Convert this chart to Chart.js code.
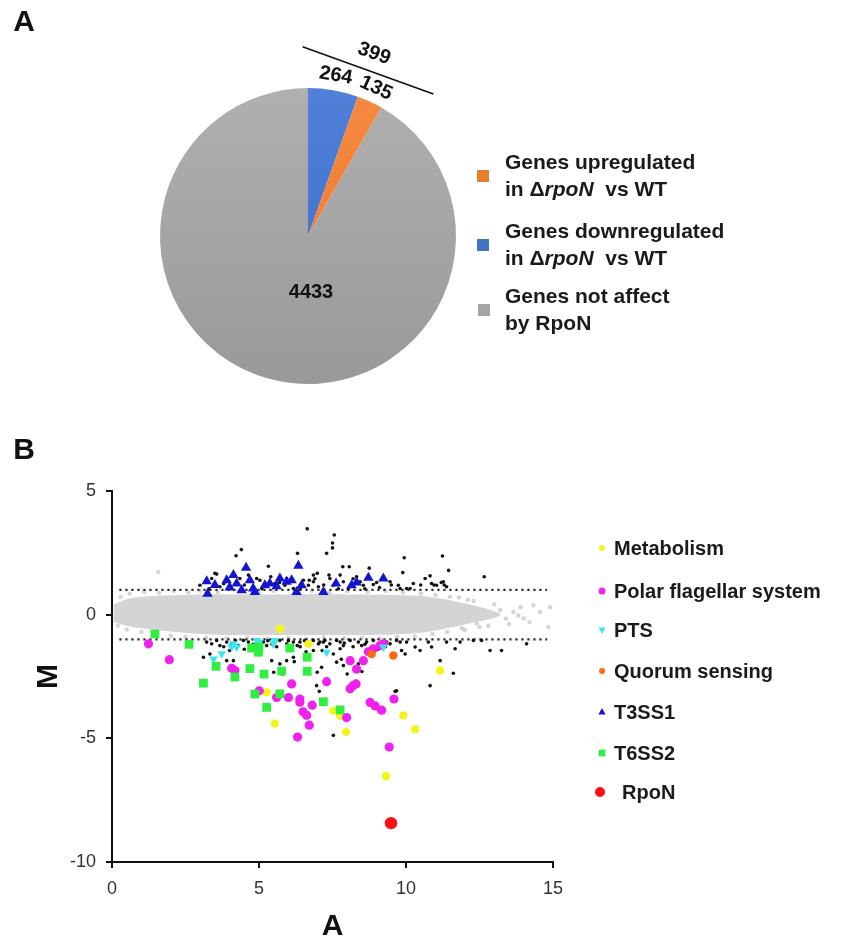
<!DOCTYPE html>
<html><head><meta charset="utf-8">
<script src="https://cdn.jsdelivr.net/npm/chart.js@4.4.1/dist/chart.umd.min.js"></script>
<style>
html,body{margin:0;padding:0;background:#fff;}
#wrap{position:relative;width:854px;height:946px;}
canvas{position:absolute;left:0;top:0;}
</style></head><body>
<div id="wrap"><canvas id="pie" width="854" height="946"></canvas><canvas id="ma" width="854" height="946"></canvas></div>
<script>
// ---------- Panel A data ----------
const pieCategories = ["Genes downregulated in ΔrpoN vs WT", "Genes upregulated in ΔrpoN vs WT", "Genes not affect by RpoN"];
const pieValues = [264, 135, 4433];

// ---------- Panel B data (A, M) ----------
const xTicks = [0, 5, 10, 15];
const yTicks = [-10, -5, 0, 5];
const thresholds = [1, -1];
const bandA     = [0.05, 0.5, 1, 2, 3, 4, 6, 8, 10, 11, 12, 12.7, 13.2];
const bandUpper = [0.4, 0.62, 0.72, 0.78, 0.82, 0.82, 0.82, 0.82, 0.78, 0.68, 0.45, 0.25, 0.05];
const bandLower = [-0.3, -0.45, -0.55, -0.68, -0.78, -0.82, -0.82, -0.82, -0.78, -0.64, -0.4, -0.22, -0.05];
const greyPoints = [[13.2,0.18],[13.65,0.11],[13.82,-0.03],[14.33,0.38],[14.56,0.11],[14.84,-0.5],[14.2,-0.3],[13.4,-0.16],[12.97,-0.03],[1.57,1.73],[14.9,0.3],[12.3,0.55],[12.5,-0.5],[11.8,0.7],[12.0,-0.62],[0.3,0.72],[0.2,-0.45],[13.0,0.42],[13.5,-0.38],[12.8,-0.45],[13.9,0.3],[12.6,0.2],[14.0,-0.15],
  [0.6,0.85],[1.1,0.92],[1.6,0.88],[2.1,0.95],[2.6,0.9],[3.0,0.97],[3.6,0.92],[4.3,0.95],[5.0,0.9],[5.5,0.96],[6.2,0.92],[6.8,0.97],[7.4,0.9],[8.0,0.95],[8.7,0.92],[9.3,0.96],[9.9,0.9],[10.5,0.85],[11.0,0.8],[11.5,0.72],[12.1,0.6],
  [0.5,-0.6],[1.0,-0.7],[1.5,-0.75],[2.0,-0.85],[2.5,-0.9],[3.2,-0.93],[3.9,-0.95],[4.6,-0.92],[5.3,-0.96],[6.0,-0.93],[6.6,-0.97],[7.2,-0.92],[7.9,-0.95],[8.5,-0.93],[9.1,-0.96],[9.7,-0.9],[10.3,-0.88],[10.9,-0.78],[11.4,-0.7],[11.9,-0.55],[12.4,-0.35]];
const blackUp = [[6.64,3.47],[7.56,3.22],[7.5,2.9],[7.5,2.7],[4.4,2.63],[4.22,2.38],[6.31,2.48],[7.3,2.48],[9.94,2.3],[11.24,2.37],[11.45,1.79],[12.66,1.53],[5.32,1.96],[7.85,1.94],[8.07,1.94],[8.75,1.88],[9.89,1.7],[6.98,1.67],[6.85,1.6],[7.38,1.6],[7.76,1.6],[10.82,1.57],[10.65,1.46],[3.56,1.64],[5.4,1.53],[4.92,1.46],[5.94,1.46],[6.11,1.46],[6.71,1.39],[6.68,1.19],[8.32,1.53],[8.44,1.33],[10.95,1.2],[11.3,1.2],[11.2,1.3],[10.5,1.2],[9.0,1.3],[9.5,1.2],[10.87,1.26],[11.04,1.19],[11.27,1.33],[11.38,1.13],[10.14,1.06],[9.8,1.06],[2.99,1.19],[3.39,1.46],[3.5,1.67],[3.67,1.13],[4.01,1.19],[4.35,1.46],[4.64,1.6],[5.03,1.39],[5.26,1.19],[5.54,1.26],[5.88,1.19],[6.17,1.06],[6.51,1.39],[6.85,1.33],[7.02,1.13],[7.41,1.46],[7.53,1.19],[7.87,1.33],[8.04,1.06],[8.55,1.19],[8.89,1.22],[9.46,1.33],[9.74,1.19],[10.02,1.06],[10.25,1.26],[3.3,1.05],[3.8,1.25],[4.5,1.2],[5.1,1.05],[5.7,1.3],[6.4,1.05],[6.9,1.45],[7.2,1.2],[7.7,1.05],[8.2,1.45],[8.6,1.05],[9.1,1.1]];
const blackDown = [[7.07,-1.11],[7.24,-1.04],[7.41,-1.18],[7.64,-1.04],[7.76,-1.11],[7.87,-1.25],[8.1,-1.04],[8.38,-1.11],[8.49,-1.25],[8.66,-1.11],[8.89,-1.04],[9.12,-1.18],[9.34,-1.11],[9.46,-1.18],[9.68,-1.04],[9.8,-1.11],[10.02,-1.11],[10.31,-1.31],[10.48,-1.45],[10.76,-1.11],[10.87,-1.31],[11.38,-1.11],[11.67,-1.38],[11.84,-1.11],[12.29,-1.04],[12.57,-1.04],[12.86,-1.45],[13.25,-1.45],[14.1,-1.18],[11.16,-1.86],[11.61,-2.37],[10.82,-2.87],[9.68,-3.08],[7.76,-1.38],[7.53,-1.59],[7.13,-2.13],[6.96,-2.87],[7.87,-2.06],[8.38,-1.99],[7.64,-1.92],[9.85,-1.45],[9.97,-1.59],[3.22,-1.11],[3.39,-1.18],[3.56,-1.04],[3.67,-1.25],[3.9,-1.11],[4.07,-1.18],[4.3,-1.25],[4.47,-1.04],[4.64,-1.11],[5.15,-1.11],[5.26,-1.25],[5.43,-1.18],[5.71,-1.04],[5.94,-1.18],[6.17,-1.11],[6.39,-1.11],[6.85,-1.04],[7.02,-1.18],[7.19,-1.11],[3.11,-1.72],[3.33,-1.59],[3.9,-1.86],[4.13,-1.86],[5.43,-1.86],[5.71,-1.99],[5.94,-1.86],[6.17,-1.72],[6.85,-1.45],[5.5,-2.33],[5.8,-2.4],[6.2,-1.9],[6.98,-2.33],[7.8,-1.8],[8.0,-2.4],[8.3,-2.7],[7.05,-3.1],[8.5,-2.3],[9.63,-3.1],[7.53,-4.88],[6.4,-1.3],[6.6,-1.5],[5.0,-1.45],[4.5,-1.4],[8.7,-1.45],[9.05,-1.4],[3.8,-1.3],[4.2,-1.05],[4.8,-1.2],[5.6,-1.3],[6.0,-1.05],[6.3,-1.25],[6.7,-1.2],[7.3,-1.3],[7.9,-1.15],[8.2,-1.3],[8.6,-1.2],[9.3,-1.3],[5.3,-1.05],[4.0,-1.45],[7.15,-1.45],[6.55,-1.05]];
const metabolism = [[5.71,-0.57],[6.68,-1.18],[11.16,-2.26],[5.26,-3.14],[5.54,-4.4],[7.53,-3.88],[7.76,-4.09],[7.96,-4.74],[9.91,-4.07],[10.31,-4.63],[9.32,-6.53]];
const polarFlagellar = [[1.24,-1.18],[1.95,-1.82],[4.07,-2.17],[4.18,-2.26],[5.01,-3.08],[5.6,-3.35],[6.0,-3.35],[6.11,-2.8],[6.39,-3.41],[6.39,-3.54],[6.5,-3.93],[6.62,-4.07],[6.71,-4.47],[6.81,-3.66],[6.31,-4.95],[7.3,-2.71],[7.98,-4.16],[8.1,-3.0],[8.2,-2.87],[8.3,-2.8],[8.1,-1.86],[8.32,-2.2],[8.55,-1.86],[8.78,-3.55],[8.95,-3.69],[9.17,-3.86],[9.59,-3.41],[9.43,-5.35],[8.89,-1.38],[9.12,-1.25],[9.23,-1.18],[8.72,-1.5]];
const pts = [[3.45,-1.79],[3.73,-1.58],[4.07,-1.31],[4.13,-1.18],[4.24,-1.31],[4.92,-1.04],[5.01,-1.11],[5.49,-1.18],[5.54,-1.04],[7.3,-1.52],[9.23,-1.31]];
const quorum = [[8.83,-1.59],[9.57,-1.65]];
const t3ss1 = [[3.22,1.35],[3.25,0.85],[3.9,1.39],[4.13,1.6],[4.56,1.9],[4.24,1.26],[4.41,0.99],[4.8,1.06],[4.86,0.92],[4.69,1.39],[5.2,1.19],[5.37,1.26],[5.71,1.46],[5.94,1.33],[6.11,1.39],[6.34,1.98],[6.45,1.19],[6.28,0.92],[7.19,0.92],[7.62,1.26],[8.15,1.19],[8.32,1.3],[8.72,1.49],[9.23,1.46],[5.6,1.15],[3.5,1.2],[4.0,1.1]];
const t6ss2 = [[1.46,-0.78],[2.62,-1.2],[3.11,-2.77],[3.54,-2.09],[4.18,-2.52],[4.69,-2.18],[5.17,-2.4],[5.77,-2.28],[6.64,-2.29],[6.64,-1.72],[4.86,-3.21],[5.26,-3.75],[7.19,-3.52],[7.76,-3.85],[5.71,-3.2],[4.75,-1.35],[4.98,-1.52],[6.05,-1.35],[5.0,-1.3]];
const rpoN = [[9.49,-8.43]];

const FONT = '"Liberation Sans", Arial, Helvetica, sans-serif';
Chart.defaults.font.family = FONT;
const xy = arr => arr.map(p => ({x: p[0], y: p[1]}));

// ---------- Panel A ----------
const pieGrad = [['#5080d8','#3d69c4'], ['#f58a40','#ea7428'], ['#b0b0b0','#999999']];
const pieFlat = ['#4472c4', '#ed7d31', '#a5a5a5'];
const pieDecor = {
  id: 'pieDecor',
  afterDraw(chart) {
    const ctx = chart.ctx, meta = chart.getDatasetMeta(0);
    const a0 = meta.data[0], a1 = meta.data[1];
    const cx = a0.x, cy = a0.y, R = a0.outerRadius;
    ctx.save();
    ctx.fillStyle = '#111';
    ctx.textAlign = 'center'; ctx.textBaseline = 'middle';
    ctx.font = 'bold 20px ' + FONT;
    const rotText = (t, ang, r) => {
      ctx.save();
      ctx.translate(cx + r * Math.cos(ang), cy + r * Math.sin(ang));
      ctx.rotate(ang + Math.PI / 2);
      ctx.fillText(t, 0, 0);
      ctx.restore();
    };
    [a0, a1].forEach((a, i) => rotText(String(pieValues[i]), (a.startAngle + a.endAngle) / 2, R * 1.10));
    const ang = a0.startAngle + (a1.endAngle - a0.startAngle) * 0.67;
    const lr = R * 1.19, lx = cx + lr * Math.cos(ang), ly = cy + lr * Math.sin(ang);
    const tx = Math.cos(ang + Math.PI / 2), ty = Math.sin(ang + Math.PI / 2), hl = R * 0.47;
    ctx.strokeStyle = '#111'; ctx.lineWidth = 1.6;
    ctx.beginPath(); ctx.moveTo(lx - tx * hl, ly - ty * hl); ctx.lineTo(lx + tx * hl, ly + ty * hl); ctx.stroke();
    rotText(String(pieValues[0] + pieValues[1]), ang, R * 1.31);
    ctx.fillText(String(pieValues[2]), cx + 3, cy + R * 0.38);

    // panel letters
    ctx.font = 'bold 30px ' + FONT;
    ctx.fillText('A', 24, 23);
    ctx.fillText('B', 24, 451);

    // legend (order: up, down, not affected)
    const items = [
      {c: pieFlat[1], l1: 'Genes upregulated', y: 163},
      {c: pieFlat[0], l1: 'Genes downregulated', y: 232},
      {c: pieFlat[2], l1: 'Genes not affect', l2: 'by RpoN', y: 297}
    ];
    ctx.textAlign = 'left';
    items.forEach((it, i) => {
      ctx.fillStyle = it.c;
      ctx.fillRect(477 + (i === 2 ? 1 : 0), it.y + 13 - 6, 12, 12);
      ctx.fillStyle = '#1a1a1a';
      ctx.font = 'bold 21px ' + FONT;
      ctx.fillText(it.l1, 505, it.y);
      const y2 = it.y + 27;
      if (it.l2) { ctx.fillText(it.l2, 505, y2); return; }
      let x = 505;
      const seg = (t, f) => { ctx.font = f; ctx.fillText(t, x, y2); x += ctx.measureText(t).width; };
      seg('in Δ', 'bold 21px ' + FONT);
      seg('rpoN', 'italic bold 21px ' + FONT);
      seg('  vs WT', 'bold 21px ' + FONT);
    });
    ctx.restore();
  }
};

new Chart(document.getElementById('pie'), {
  type: 'pie',
  data: {
    labels: pieCategories,
    datasets: [{
      data: pieValues,
      borderWidth: 0,
      backgroundColor: (c) => {
        const ch = c.chart, area = ch.chartArea;
        if (!area) return pieFlat[c.dataIndex];
        const g = ch.ctx.createLinearGradient(0, area.top, 0, area.bottom);
        g.addColorStop(0, pieGrad[c.dataIndex][0]);
        g.addColorStop(1, pieGrad[c.dataIndex][1]);
        return g;
      }
    }]
  },
  options: {
    responsive: false, animation: false, events: [],
    layout: {padding: {left: 160, right: 398, top: 88, bottom: 562}},
    plugins: {legend: {display: false}, tooltip: {enabled: false}}
  },
  plugins: [pieDecor]
});

// ---------- Panel B ----------
const series = [
  {label: 'Metabolism', data: metabolism, color: '#f4f41c', style: 'circle', r: 4.2, lr: 3},
  {label: 'Polar flagellar system', data: polarFlagellar, color: '#f020ee', style: 'circle', r: 4.6, lr: 3.5},
  {label: 'PTS', data: pts, color: '#3ee6f0', style: 'triangle', rot: 180, r: 5, lr: 4},
  {label: 'Quorum sensing', data: quorum, color: '#ff6a14', style: 'circle', r: 4.3, lr: 3},
  {label: 'T3SS1', data: t3ss1, color: '#1414d2', style: 'triangle', rot: 0, r: 6, lr: 4},
  {label: 'T6SS2', data: t6ss2, color: '#30ee40', style: 'rect', r: 6.2, lr: 4.5},
  {label: 'RpoN', data: rpoN, color: '#ff1010', style: 'circle', r: 6.2, lr: 5}
];
const legendY = [548, 591, 630, 671, 712, 753, 792];

function mark(ctx, s, x, y) {
  ctx.fillStyle = s.color; ctx.beginPath();
  const r = s.lr;
  if (s.style === 'circle') ctx.arc(x, y, r, 0, Math.PI * 2);
  else if (s.style === 'rect') ctx.rect(x - r * 0.75, y - r * 0.75, r * 1.5, r * 1.5);
  else {
    const d = s.rot ? -1 : 1;
    ctx.moveTo(x, y - d * r); ctx.lineTo(x + r * 0.9, y + d * r * 0.6); ctx.lineTo(x - r * 0.9, y + d * r * 0.6); ctx.closePath();
  }
  ctx.fill();
}
const maLegend = {
  id: 'maLegend',
  afterDraw(chart) {
    const ctx = chart.ctx;
    ctx.save();
    ctx.font = 'bold 20px ' + FONT; ctx.fillStyle = '#1a1a1a';
    ctx.textAlign = 'left'; ctx.textBaseline = 'middle';
    series.forEach((s, i) => {
      const last = i === series.length - 1;
      mark(ctx, s, last ? 600 : 602, legendY[i]);
      ctx.fillStyle = '#1a1a1a';
      ctx.fillText(s.label, last ? 622 : 614, legendY[i] + 1);
    });
    ctx.restore();
  }
};

const pointSet = (label, data, color, style, r, rot, order) => ({
  label, data: xy(data), showLine: false, pointStyle: style, pointRadius: r, pointRotation: rot || 0,
  pointBackgroundColor: color, pointBorderWidth: 0, pointBorderColor: color, order
});

const datasets = [
  {label: 'bandLower', data: bandA.map((a, i) => ({x: a, y: bandLower[i]})), borderWidth: 0, pointRadius: 0, fill: false, tension: 0.4, order: 30},
  {label: 'bandUpper', data: bandA.map((a, i) => ({x: a, y: bandUpper[i]})), borderWidth: 0, pointRadius: 0, fill: '-1', backgroundColor: 'rgb(212,212,212)', tension: 0.4, order: 29},
  pointSet('grey', greyPoints, 'rgb(212,212,212)', 'circle', 2.2, 0, 28),
];
thresholds.forEach(t => datasets.push({
  label: 'thr' + t, data: [{x: 0.25, y: t}, {x: 14.8, y: t}], borderColor: '#2a2a2a', borderWidth: 2.2,
  borderDash: [2.2, 3.8], pointRadius: 0, fill: false, order: 27
}));
datasets.push(pointSet('up', blackUp, '#111', 'circle', 1.8, 0, 26));
datasets.push(pointSet('down', blackDown, '#111', 'circle', 1.8, 0, 25));
series.forEach((s, i) => datasets.push(pointSet(s.label, s.data, s.color, s.style, s.r, s.rot, 10 - i)));

const axisCommon = (min, max, title, titlePad, fit) => ({
  type: 'linear', min, max,
  afterBuildTicks: (sc) => { sc.ticks = (sc.axis === 'x' ? xTicks : yTicks).map(v => ({value: v})); },
  ticks: {font: {size: 18}, color: '#333', padding: 10, maxRotation: 0, autoSkip: false},
  grid: {drawOnChartArea: false, drawTicks: true, tickLength: 6, color: '#111', lineWidth: 2},
  border: {display: true, color: '#111', width: 2},
  title: {display: true, text: title, font: {size: 30, weight: 'bold'}, color: '#111', padding: titlePad},
  afterFit: fit
});

new Chart(document.getElementById('ma'), {
  type: 'line',
  data: {datasets},
  options: {
    responsive: false, animation: false, events: [],
    layout: {padding: {left: 0, right: 301, top: 491, bottom: 0}},
    plugins: {legend: {display: false}, tooltip: {enabled: false}},
    scales: {
      x: axisCommon(0, 15, 'A', {top: 0, bottom: 1}, (s) => { s.height = 84; }),
      y: axisCommon(-10, 5, 'M', {top: 31, bottom: 0}, (s) => { s.width = 112; })
    }
  },
  plugins: [maLegend]
});
</script>
</body></html>
